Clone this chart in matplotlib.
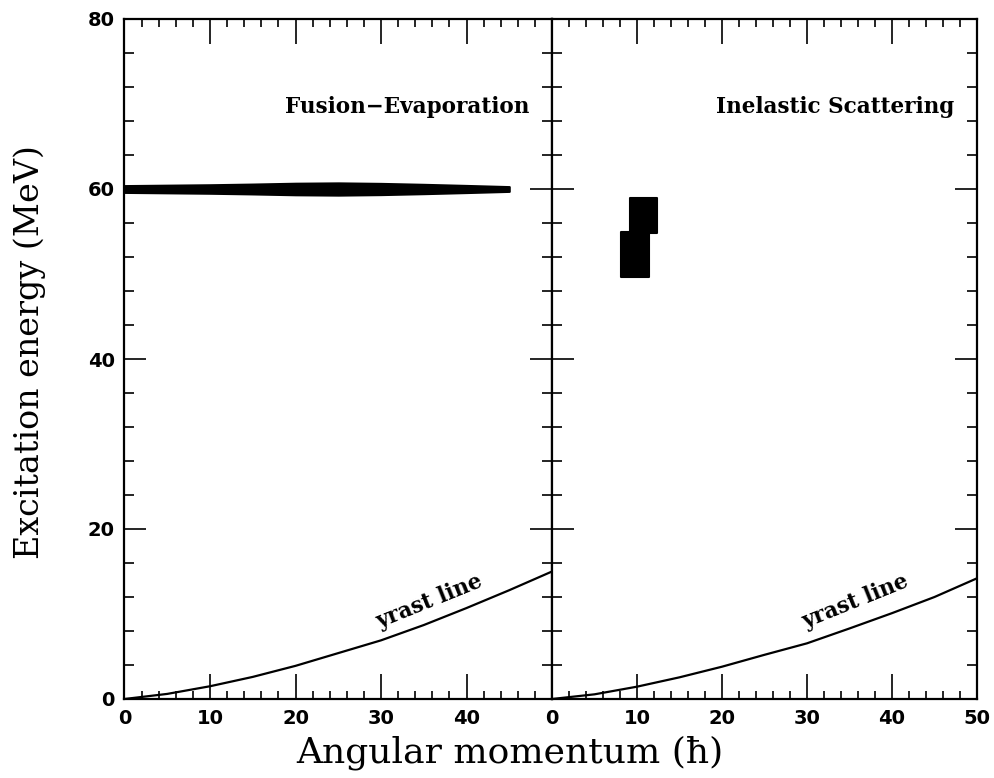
import matplotlib
matplotlib.use("Agg")
import matplotlib.pyplot as plt
import numpy as np

# ---- data ----
yrast_J = [0, 5, 10, 15, 20, 25, 30, 35, 40, 45, 50]
yrast_left_E = [0, 0.6, 1.5, 2.6, 3.9, 5.4, 6.9, 8.7, 10.7, 12.8, 15.0]
yrast_right_E = [0, 0.55, 1.45, 2.55, 3.8, 5.2, 6.55, 8.3, 10.1, 12.0, 14.2]

band_J = [0, 5, 10, 15, 20, 25, 30, 35, 40, 45]
band_center = [60.0, 60.0, 60.0, 60.0, 60.0, 60.0, 60.0, 60.0, 60.0, 60.0]
band_half = [0.40, 0.45, 0.50, 0.58, 0.68, 0.72, 0.66, 0.55, 0.42, 0.28]

# inelastic scattering blocks: (J_min, J_max, E_min, E_max)
blocks_Jmin = [8.1, 9.2]
blocks_Jmax = [11.4, 12.4]
blocks_Emin = [49.7, 54.8]
blocks_Emax = [54.9, 59.0]

left_xticks = [0, 10, 20, 30, 40]
right_xticks = [0, 10, 20, 30, 40, 50]
yticks = [0, 20, 40, 60, 80]

panel_titles = ["Fusion\u2212Evaporation", "Inelastic Scattering"]

# ---- figure ----
fig = plt.figure(figsize=(9.94, 7.78), dpi=100)
L, M, R = 124.5 / 994, 552 / 994, 977 / 994
B, T = 1 - 699 / 778, 1 - 19 / 778
axL = fig.add_axes([L, B, M - L, T - B])
axR = fig.add_axes([M, B, R - M, T - B])

tickfont = dict(family="DejaVu Sans", weight="bold", size=14)
for ax in (axL, axR):
    ax.set_xlim(0, 50)
    ax.set_ylim(0, 80)
    for s in ax.spines.values():
        s.set_linewidth(1.6)
    ax.set_yticks(yticks)
    ax.set_yticks(np.arange(0, 81, 4), minor=True)
    ax.set_xticks(np.arange(0, 51, 2), minor=True)
    ax.tick_params(which="both", direction="in", top=True, right=True,
                   width=1.2, pad=7)
    ax.tick_params(which="major", length=18)
    ax.tick_params(which="minor", length=6)
    ax.tick_params(axis="y", which="major", length=16)
    ax.tick_params(axis="y", which="minor", length=7)

axL.set_xticks(left_xticks)
axR.set_xticks(right_xticks)
axL.set_xticklabels([str(v) for v in left_xticks], fontdict=tickfont)
axR.set_xticklabels([str(v) for v in right_xticks], fontdict=tickfont)
axL.set_yticklabels([str(v) for v in yticks], fontdict=tickfont)
axR.set_yticklabels([])

# yrast lines
axL.plot(yrast_J, yrast_left_E, color="black", lw=1.6, solid_capstyle="round")
axR.plot(yrast_J, yrast_right_E, color="black", lw=1.6, solid_capstyle="round")
axL.text(35.7, 11.5, "yrast line", rotation=22, ha="center", va="center",
         family="DejaVu Serif", weight="bold", size=15.5)
axR.text(35.7, 11.4, "yrast line", rotation=22, ha="center", va="center",
         family="DejaVu Serif", weight="bold", size=15.5)

# fusion-evaporation band
lo = [c - h for c, h in zip(band_center, band_half)]
hi = [c + h for c, h in zip(band_center, band_half)]
axL.fill_between(band_J, lo, hi, color="black", lw=1.5, edgecolor="black",
                 joinstyle="round")

# inelastic scattering blocks
for j0, j1, e0, e1 in zip(blocks_Jmin, blocks_Jmax, blocks_Emin, blocks_Emax):
    axR.fill_between([j0, j1], [e0, e0], [e1, e1], color="black",
                     edgecolor="black", lw=1.5, joinstyle="round")

# panel titles
axL.text(47.4, 69.6, panel_titles[0], ha="right", va="center",
         family="DejaVu Serif", weight="bold", size=15.5)
axR.text(47.3, 69.6, panel_titles[1], ha="right", va="center",
         family="DejaVu Serif", weight="bold", size=15.5)

# axis labels
fig.text(30 / 994, 1 - 352 / 778, "Excitation energy (MeV)", rotation=90,
         ha="center", va="center", family="DejaVu Serif", size=24)
fig.text(510 / 994, 1 - 753 / 778, "Angular momentum (\u0127)",
         ha="center", va="center", family="DejaVu Serif", size=26)

fig.savefig("out.png", dpi=100, facecolor="white")
